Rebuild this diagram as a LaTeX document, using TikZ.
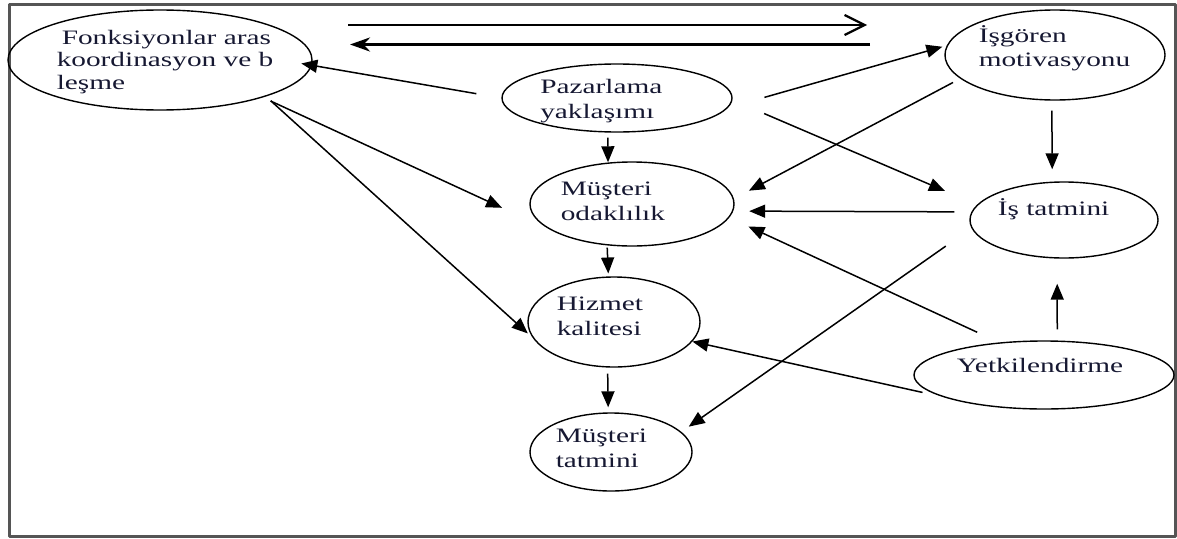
\documentclass[tikz,border=0pt]{standalone}
\usepackage{fontspec}
\setmainfont{Liberation Serif}[FakeStretch=1.43]
\usetikzlibrary{arrows.meta,shapes.geometric}
\definecolor{txtc}{RGB}{22,24,50}
\definecolor{framec}{RGB}{85,85,85}
\begin{document}
\begin{tikzpicture}[x=1pt,y=-1pt,line join=round,line width=1.5pt,
		>={Triangle[length=16pt,width=13pt]}]
	\tikzset{oval/.style={draw,ellipse,inner sep=0pt,line width=1.4pt},
		lbl/.style={anchor=base west,align=left,inner sep=0pt,text=txtc,
			font=\fontsize{20.5}{24.5}\selectfont},
		arr/.style={->}}
	\useasboundingbox (0,0) rectangle (1177,538);
	\draw[framec,line width=2.5pt] (9.5,4.5) rectangle (1175.5,536.5);
	\node[oval,minimum width=304pt,minimum height=100pt] (fonk) at (160,60) {};
	\node[oval,minimum width=230pt,minimum height=68pt] (paz) at (617,98) {};
	\node[oval,minimum width=220pt,minimum height=90pt] (isg) at (1055,55) {};
	\node[oval,minimum width=188pt,minimum height=76pt] (ist) at (1064,220) {};
	\node[oval,minimum width=204pt,minimum height=84pt] (mod) at (632,204) {};
	\node[oval,minimum width=172pt,minimum height=90pt] (hiz) at (614,322) {};
	\node[oval,minimum width=162pt,minimum height=78pt] (mta) at (611,452) {};
	\node[oval,minimum width=260pt,minimum height=68pt] (yet) at (1044,375) {};
	\node[lbl,font=\fontsize{20.5}{22.5}\selectfont] (fonk-t) at (56,89) {\hspace{5pt}Fonksiyonlar aras\\koordinasyon ve b\\leşme};
	\node[lbl] (paz-t) at (539.5,118.3) {Pazarlama\\yaklaşımı};
	\node[lbl] (isg-t) at (978,66.7) {İşgören\\motivasyonu};
	\node[lbl] (ist-t) at (997,215) {İş tatmini};
	\node[lbl] (mod-t) at (560,220) {Müşteri\\odaklılık};
	\node[lbl] (hiz-t) at (556,335) {Hizmet\\kalitesi};
	\node[lbl] (mta-t) at (555,467.3) {Müşteri\\tatmini};
	\node[lbl] (yet-t) at (956,372.3) {Yetkilendirme};
	\coordinate (top-a) at (348,25);
	\coordinate (top-b) at (867,25);
	\coordinate (top-c) at (870,44.5);
	\coordinate (top-d) at (350,44.5);
	\draw[line width=2.2pt,-{Straight Barb[length=20pt,width=20pt]}] (top-a) -- (top-b);
	\draw[line width=3.8pt,-{Stealth[length=20pt,width=14pt]}] (top-c) -- (top-d);
	\draw[arr,shorten <=25.3pt,shorten >=-10.7pt] (paz.180) -- (fonk.-2.5);
	\draw[arr,shorten <=37.8pt,shorten >=4.5pt] (paz.-5.4) -- (isg.175.1);
	\draw[arr,shorten <=34.4pt,shorten >=34.9pt] (paz.-1.8) -- (ist.170.6);
	\draw[arr,shorten <=5.1pt,shorten >=0.2pt] (paz.255.1) -- (mod.120.5);
	\draw[arr,shorten <=8.2pt,shorten >=17pt] (isg.194.6) -- (mod.3.5);
	\draw[arr,shorten <=10pt,shorten >=12.3pt] (isg.266.2) -- (ist.107.7);
	\draw[arr,shorten <=17.1pt,shorten >=15.9pt] (ist.175) -- (mod.-4.6);
	\draw[arr,shorten <=31.3pt,shorten >=9pt] (ist.185.7) -- (mta.16);
	\draw[arr,shorten <=24.2pt,shorten >=21pt] (yet.144.7) -- (mod.-8.4);
	\draw[arr,shorten <=60.4pt] (yet.206.7) -- (hiz.-14.4);
	\draw[arr,shorten <=11.2pt,shorten >=25.1pt] (yet.69) -- (ist.-100.5);
	\draw[arr,shorten <=8.5pt,shorten >=58pt] (fonk.-20.5) -- (mod.200);
	\draw[arr,shorten <=6.4pt,shorten >=6.5pt] (fonk.-19.6) -- (hiz.191.5);
	\draw[arr,shorten <=2.2pt,shorten >=2.9pt] (mod.239.5) -- (hiz.97.6);
	\draw[arr,shorten <=6.1pt,shorten >=5pt] (hiz.262.4) -- (mta.94.4);
\end{tikzpicture}
\end{document}
